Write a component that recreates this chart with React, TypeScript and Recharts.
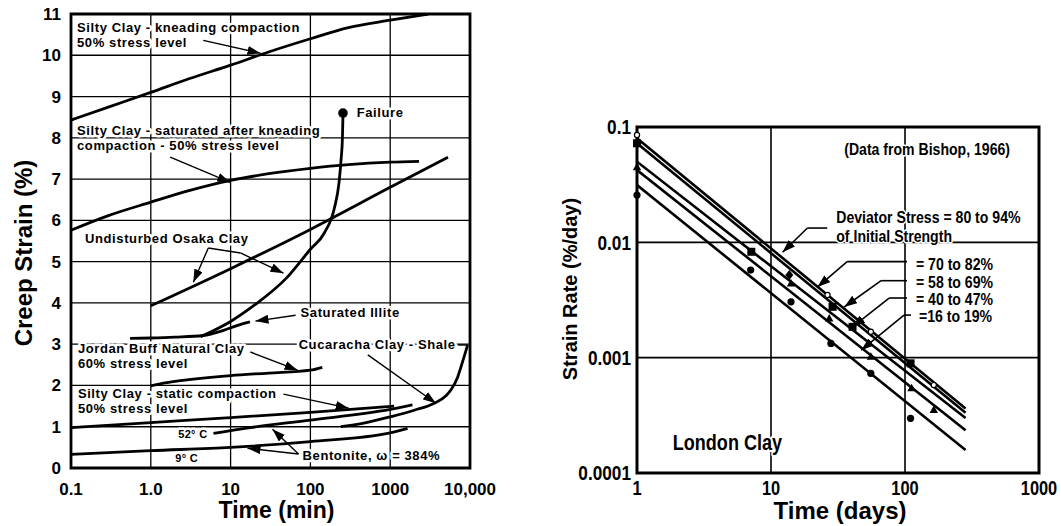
import React from 'react';
import {
  ComposedChart,
  Line,
  XAxis,
  YAxis,
  CartesianGrid,
  ReferenceDot,
  ReferenceLine,
  ReferenceArea,
} from 'recharts';

type P = [number, number];
const pts = (a: P[]) => a.map(([x, y]) => ({ x, y }));

const FONT = "'Liberation Sans', Arial, Helvetica, sans-serif";
const NARROW_SCALE = 0.82;

// ---------------- LEFT PANEL: creep strain vs time (min) ----------------
const leftXTicks = [0.1, 1, 10, 100, 1000, 10000];
const leftXTickLabels = ['0.1', '1.0', '10', '100', '1000', '10,000'];
const leftYTicks = [0, 1, 2, 3, 4, 5, 6, 7, 8, 9, 10, 11];

const siltyKneading: P[] = [
  [0.1, 8.43], [0.3, 8.75], [1, 9.1], [3, 9.43], [10, 9.76], [30, 10.08],
  [100, 10.4], [300, 10.67], [1000, 10.85], [3000, 11],
];
const siltySaturated: P[] = [
  [0.1, 5.76], [0.3, 6.12], [1, 6.44], [3, 6.72], [10, 6.97], [30, 7.13],
  [100, 7.26], [300, 7.35], [1000, 7.41], [2300, 7.43],
];
const osakaClay: P[] = [
  [1, 3.93], [10, 4.83], [100, 5.78], [1000, 6.8], [5300, 7.53],
];
const failureCurve: P[] = [
  [4.2, 3.18], [10, 3.55], [20, 3.95], [50, 4.6], [100, 5.3], [150, 5.7],
  [200, 6.3], [228, 6.9], [243, 7.5], [252, 8.0], [256, 8.55],
];
const saturatedIllite: P[] = [
  [0.55, 3.14], [1, 3.15], [2, 3.17], [4.5, 3.21], [8, 3.33], [12, 3.45], [17.5, 3.54],
];
const jordanBuff: P[] = [
  [1, 1.99], [1.5, 2.06], [3, 2.14], [10, 2.24], [30, 2.3], [100, 2.37], [141, 2.44],
];
const siltyStatic: P[] = [
  [0.1, 0.98], [1, 1.1], [10, 1.22], [100, 1.35], [1120, 1.5],
];
const cucaracha: P[] = [
  [240, 1.0], [500, 1.1], [1000, 1.24], [2000, 1.4], [3570, 1.57], [5000, 1.75],
  [5750, 1.89], [7000, 2.2], [7710, 2.45], [9340, 2.98],
];
const bentonite52: P[] = [
  [6.1, 0.84], [17.7, 0.98], [100, 1.16], [1000, 1.42], [1900, 1.53],
];
const bentonite9: P[] = [
  [0.1, 0.33], [1, 0.42], [10, 0.5], [100, 0.64], [1000, 0.85], [1650, 0.96],
];
const leftCurves = [
  siltyKneading, siltySaturated, osakaClay, failureCurve, saturatedIllite,
  jordanBuff, siltyStatic, cucaracha, bentonite52, bentonite9,
];
const failurePoint: P = [256, 8.6];

// annotations (anchor in data coordinates)
const leftNotes: { x: number; y: number; text: string; small?: boolean }[] = [
  { x: 0.119, y: 10.56, text: 'Silty Clay - kneading compaction' },
  { x: 0.119, y: 10.19, text: '50% stress level' },
  { x: 380, y: 8.5, text: 'Failure' },
  { x: 0.119, y: 8.06, text: 'Silty Clay - saturated after kneading' },
  { x: 0.119, y: 7.7, text: 'compaction -  50% stress level' },
  { x: 0.15, y: 5.45, text: 'Undisturbed Osaka Clay' },
  { x: 75.3, y: 3.66, text: 'Saturated Illite' },
  { x: 0.122, y: 2.78, text: 'Jordan Buff Natural Clay' },
  { x: 0.122, y: 2.42, text: '60% stress level' },
  { x: 71.2, y: 2.88, text: 'Cucaracha Clay - Shale' },
  { x: 0.122, y: 1.69, text: 'Silty Clay - static compaction' },
  { x: 0.122, y: 1.33, text: '50% stress level' },
  { x: 2.21, y: 0.73, text: '52° C', small: true },
  { x: 2.03, y: 0.145, text: '9° C', small: true },
  { x: 79.8, y: 0.19, text: 'Bentonite, \u03c9 = 384%' },
];
const leftArrows: { x1: number; y1: number; x2: number; y2: number; head: boolean }[] = [
  { x1: 4.55, y1: 10.36, x2: 23.7, y2: 10.05, head: true },
  { x1: 1.75, y1: 7.53, x2: 9.9, y2: 6.92, head: true },
  { x1: 5.26, y1: 5.33, x2: 3.41, y2: 4.5, head: true },
  { x1: 5.26, y1: 5.33, x2: 13.3, y2: 5.21, head: false },
  { x1: 13.3, y1: 5.21, x2: 46, y2: 4.72, head: true },
  { x1: 65.2, y1: 3.7, x2: 20.5, y2: 3.56, head: true },
  { x1: 17.7, y1: 2.81, x2: 69, y2: 2.37, head: true },
  { x1: 7060, y1: 2.98, x2: 9340, y2: 2.98, head: false },
  { x1: 524, y1: 2.74, x2: 3740, y2: 1.57, head: true },
  { x1: 46, y1: 1.79, x2: 302, y2: 1.45, head: true },
  { x1: 71, y1: 0.34, x2: 16.3, y2: 0.48, head: true },
  { x1: 71, y1: 0.34, x2: 33.5, y2: 0.94, head: true },
];

// ---------------- RIGHT PANEL: strain rate vs time (days) ----------------
const rightXTicks = [1, 10, 100, 1000];
const rightXTickLabels = ['1', '10', '100', '1000'];
const rightYTicks = [0.0001, 0.001, 0.01, 0.1];
const rightYTickLabels = ['0.0001', '0.001', '0.01', '0.1'];

const stress80to94: P[] = [[1, 0.0798], [283, 0.000363]];
const stress70to82: P[] = [[1, 0.0723], [283, 0.000333]];
const stress58to69: P[] = [[1, 0.05], [283, 0.0003]];
const stress40to47: P[] = [[1, 0.0423], [283, 0.000235]];
const stress16to19: P[] = [[1, 0.0314], [283, 0.000158]];
const rightLines = [stress80to94, stress70to82, stress58to69, stress40to47, stress16to19];

const measuredDots: P[] = [
  [1, 0.0257], [7.05, 0.00575], [14.1, 0.00305], [28, 0.00133], [55.6, 0.00073], [110, 0.000298],
];
const measuredSquares: P[] = [
  [1, 0.0723], [7.13, 0.00828], [28.8, 0.00276], [40.6, 0.00185], [110, 0.000893],
];
const measuredTriangles: P[] = [
  [1, 0.0447], [14.1, 0.0044], [27.2, 0.00219], [55.6, 0.00102], [112, 0.000542], [164, 0.000352],
];
const measuredDiamonds: P[] = [[13.7, 0.0052]];
const measuredOpen: P[] = [[1, 0.0853], [26.4, 0.00349], [55.6, 0.00168], [164, 0.000578]];

const rightNotes: { x: number; y: number; text: string; big?: boolean }[] = [
  { x: 35.2, y: 0.0572, text: '(Data from Bishop, 1966)' },
  { x: 30.7, y: 0.0147, text: 'Deviator Stress = 80 to 94%' },
  { x: 30.7, y: 0.0101, text: 'of Initial Strength' },
  { x: 120.7, y: 0.00575, text: '= 70 to 82%' },
  { x: 120.7, y: 0.00404, text: '= 58 to 69%' },
  { x: 120.7, y: 0.00286, text: '= 40 to 47%' },
  { x: 127, y: 0.00205, text: '=16 to 19%' },
  { x: 1.85, y: 0.000158, text: 'London Clay', big: true },
];
const rightArrows: { x1: number; y1: number; x2: number; y2: number; head: boolean }[] = [
  { x1: 26.3, y1: 0.0133, x2: 18.7, y2: 0.0133, head: false },
  { x1: 18.7, y1: 0.0133, x2: 12.2, y2: 0.0082, head: true },
  { x1: 103.5, y1: 0.0068, x2: 37.0, y2: 0.0068, head: false },
  { x1: 37.0, y1: 0.0068, x2: 22.2, y2: 0.00409, head: true },
  { x1: 103.5, y1: 0.00465, x2: 66.3, y2: 0.00465, head: false },
  { x1: 66.3, y1: 0.00465, x2: 35.2, y2: 0.00275, head: true },
  { x1: 103.5, y1: 0.00329, x2: 76.1, y2: 0.00329, head: false },
  { x1: 76.1, y1: 0.00329, x2: 40.4, y2: 0.00184, head: true },
  { x1: 110.9, y1: 0.00234, x2: 98.3, y2: 0.00234, head: false },
  { x1: 98.3, y1: 0.00234, x2: 47.1, y2: 0.00116, head: true },
];

// ---------------- helpers ----------------
const fmt = (ticks: number[], labels: string[]) => (v: number) => {
  const i = ticks.findIndex((t) => Math.abs(t - v) / t < 1e-6);
  return i >= 0 ? labels[i] : String(v);
};

const arrowShape = (head: boolean, w: number) => (p: any) => (
  <line
    x1={p.x1}
    y1={p.y1}
    x2={p.x2}
    y2={p.y2}
    stroke="#000"
    strokeWidth={w}
    markerEnd={head ? 'url(#ahead)' : undefined}
  />
);

const markerShape = (kind: string) => (p: any) => {
  const { cx, cy } = p;
  if (cx == null || cy == null) return <g />;
  if (kind === 'dot') return <circle cx={cx} cy={cy} r={3.6} fill="#000" />;
  if (kind === 'square') return <rect x={cx - 4} y={cy - 4} width={8} height={8} fill="#000" />;
  if (kind === 'triangle')
    return <path d={`M${cx},${cy - 4.5} L${cx + 4.2},${cy + 3} L${cx - 4.2},${cy + 3} Z`} fill="#000" />;
  if (kind === 'diamond')
    return <path d={`M${cx},${cy - 5} L${cx + 4},${cy} L${cx},${cy + 5} L${cx - 4},${cy} Z`} fill="#000" />;
  return <circle cx={cx} cy={cy} r={2.6} fill="#fff" stroke="#000" strokeWidth={1.2} />;
};

// bold text, optionally condensed (emulates a narrow face)
const BoldText = ({
  x,
  y,
  size,
  anchor = 'start',
  dy,
  rotate = 0,
  halo = 0,
  squeeze = NARROW_SCALE,
  children,
}: {
  x: number;
  y: number;
  size: number;
  anchor?: 'start' | 'middle' | 'end';
  dy?: string;
  rotate?: number;
  halo?: number;
  squeeze?: number;
  children: React.ReactNode;
}) => (
  <g transform={`translate(${x},${y}) rotate(${rotate})`}>
    <text
      transform={`scale(${squeeze},1)`}
      x={0}
      y={0}
      dy={dy}
      textAnchor={anchor}
      fontFamily={FONT}
      fontWeight="bold"
      fontSize={size}
      fill="#000"
      stroke={halo ? '#fff' : undefined}
      strokeWidth={halo || undefined}
      strokeLinejoin="round"
      paintOrder="stroke"
    >
      {children}
    </text>
  </g>
);

const LeftChart = () => (
  <ComposedChart width={500} height={526} margin={{ top: 14, right: 30, bottom: 28, left: 11 }}>
    <CartesianGrid stroke="#000" strokeWidth={1.3} />
    <XAxis
      type="number"
      dataKey="x"
      scale="log"
      domain={[0.1, 10000]}
      ticks={leftXTicks}
      interval={0}
      allowDataOverflow
      tickFormatter={fmt(leftXTicks, leftXTickLabels)}
      tick={{ fill: '#000', fontSize: 17, fontWeight: 'bold', fontFamily: FONT }}
      tickLine={false}
      axisLine={false}
      tickSize={0}
      tickMargin={15}
      height={30}
      label={{
        content: (props: any) => {
          const vb = props.viewBox || props;
          return (
            <text
              x={vb.x + vb.width / 2 + 6}
              y={vb.y + 50}
              textAnchor="middle"
              fontFamily={FONT}
              fontWeight="bold"
              fontSize={23}
              fill="#000"
            >
              Time (min)
            </text>
          );
        },
      }}
    />
    <YAxis
      type="number"
      dataKey="y"
      domain={[0, 11]}
      ticks={leftYTicks}
      interval={0}
      allowDataOverflow
      tick={{ fill: '#000', fontSize: 17, fontWeight: 'bold', fontFamily: FONT }}
      tickLine={false}
      axisLine={false}
      tickSize={0}
      tickMargin={10}
      width={60}
      label={{
        content: (props: any) => {
          const vb = props.viewBox || props;
          const cy = vb.y + vb.height / 2 + 12;
          return (
            <text
              transform={`translate(${vb.x + 21}, ${cy}) rotate(-90)`}
              textAnchor="middle"
              fontFamily={FONT}
              fontWeight="bold"
              fontSize={24}
              fill="#000"
            >
              Creep Strain (%)
            </text>
          );
        },
      }}
    />
    <ReferenceArea
      x1={0.1}
      x2={10000}
      y1={0}
      y2={11}
      fill="none"
      fillOpacity={0}
      stroke="#000"
      strokeWidth={2.8}
      ifOverflow="visible"
    />
    {leftCurves.map((c, i) => (
      <Line
        key={'lc' + i}
        data={pts(c)}
        dataKey="y"
        type="monotone"
        stroke="#000"
        strokeWidth={2.8}
        dot={false}
        activeDot={false}
        isAnimationActive={false}
        legendType="none"
      />
    ))}
    <ReferenceDot x={failurePoint[0]} y={failurePoint[1]} r={4.8} fill="#000" stroke="none" ifOverflow="visible" />
    {leftArrows.map((a, i) => (
      <ReferenceLine
        key={'la' + i}
        segment={[{ x: a.x1, y: a.y1 }, { x: a.x2, y: a.y2 }]}
        ifOverflow="visible"
        shape={arrowShape(a.head, 1.4)}
      />
    ))}
    {leftNotes.map((n, i) => (
      <ReferenceDot
        key={'ln' + i}
        x={n.x}
        y={n.y}
        r={1}
        ifOverflow="visible"
        shape={(p: any) => (
          <text
            x={p.cx}
            y={p.cy}
            fontFamily={FONT}
            fontWeight="bold"
            fontSize={n.small ? 11 : 13}
            letterSpacing={n.small ? 0.3 : 0.6}
            fill="#000"
            stroke="#fff"
            strokeWidth={5}
            strokeLinejoin="round"
            paintOrder="stroke"
          >
            {n.text}
          </text>
        )}
      />
    ))}
  </ComposedChart>
);

const rightXTickFmt = fmt(rightXTicks, rightXTickLabels);
const rightYTickFmt = fmt(rightYTicks, rightYTickLabels);

const RightChart = () => (
  <ComposedChart width={541} height={526} margin={{ top: 127, right: 22, bottom: 23, left: 27 }}>
    <CartesianGrid stroke="#000" strokeWidth={1.6} />
    <XAxis
      type="number"
      dataKey="x"
      scale="log"
      domain={[1, 1000]}
      ticks={rightXTicks}
      interval={0}
      allowDataOverflow
      tick={(p: any) => (
        <BoldText x={p.x} y={p.y} size={20} anchor="middle" dy="0.71em">
          {rightXTickFmt(p.payload.value)}
        </BoldText>
      )}
      tickLine={false}
      axisLine={false}
      tickSize={0}
      tickMargin={8}
      height={30}
      label={{
        content: (props: any) => {
          const vb = props.viewBox || props;
          return (
            <BoldText x={vb.x + vb.width / 2 + 2} y={vb.y + 46} size={24} anchor="middle" squeeze={1}>
              Time (days)
            </BoldText>
          );
        },
      }}
    />
    <YAxis
      type="number"
      dataKey="y"
      scale="log"
      domain={[0.0001, 0.1]}
      ticks={rightYTicks}
      interval={0}
      allowDataOverflow
      tick={(p: any) => (
        <BoldText x={p.x} y={p.y} size={21} anchor="end" dy="0.355em">
          {rightYTickFmt(p.payload.value)}
        </BoldText>
      )}
      tickLine={false}
      axisLine={false}
      tickSize={0}
      tickMargin={6}
      width={90}
      label={{
        content: (props: any) => {
          const vb = props.viewBox || props;
          return (
            <BoldText x={vb.x + 30} y={vb.y + vb.height / 2 - 11} size={20} anchor="middle" rotate={-90} squeeze={1}>
              Strain Rate (%/day)
            </BoldText>
          );
        },
      }}
    />
    <ReferenceArea
      x1={1}
      x2={1000}
      y1={0.0001}
      y2={0.1}
      fill="none"
      fillOpacity={0}
      stroke="#000"
      strokeWidth={3}
      ifOverflow="visible"
    />
    {rightLines.map((c, i) => (
      <Line
        key={'rl' + i}
        data={pts(c)}
        dataKey="y"
        type="linear"
        stroke="#000"
        strokeWidth={2.6}
        dot={false}
        activeDot={false}
        isAnimationActive={false}
        legendType="none"
      />
    ))}
    {(
      [
        ['dot', measuredDots],
        ['square', measuredSquares],
        ['triangle', measuredTriangles],
        ['diamond', measuredDiamonds],
        ['open', measuredOpen],
      ] as [string, P[]][]
    ).flatMap(([kind, arr]) =>
      arr.map((m, i) => (
        <ReferenceDot key={kind + i} x={m[0]} y={m[1]} r={3} ifOverflow="visible" shape={markerShape(kind)} />
      ))
    )}
    {rightArrows.map((a, i) => (
      <ReferenceLine
        key={'ra' + i}
        segment={[{ x: a.x1, y: a.y1 }, { x: a.x2, y: a.y2 }]}
        ifOverflow="visible"
        shape={arrowShape(a.head, 1.6)}
      />
    ))}
    {rightNotes.map((n, i) => (
      <ReferenceDot
        key={'rn' + i}
        x={n.x}
        y={n.y}
        r={1}
        ifOverflow="visible"
        shape={(p: any) => (
          <BoldText
            x={p.cx}
            y={p.cy}
            size={n.big ? 22 : 16}
            squeeze={n.big ? NARROW_SCALE : 0.88}
            halo={n.big ? 4 : 3}
          >
            {n.text}
          </BoldText>
        )}
      />
    ))}
  </ComposedChart>
);

export default function App() {
  return (
    <div style={{ position: 'absolute', left: 0, top: 0, width: 1061, height: 526, background: '#fff' }}>
      <svg width={0} height={0} style={{ position: 'absolute' }}>
        <defs>
          <marker
            id="ahead"
            viewBox="0 0 13 9"
            refX={13}
            refY={4.5}
            markerWidth={13}
            markerHeight={9}
            markerUnits="userSpaceOnUse"
            orient="auto"
          >
            <path d="M0,0 L13,4.5 L0,9 Z" fill="#000" />
          </marker>
        </defs>
      </svg>
      <div style={{ position: 'absolute', left: 0, top: 0 }}>
        <LeftChart />
      </div>
      <div style={{ position: 'absolute', left: 520, top: 0 }}>
        <RightChart />
      </div>
    </div>
  );
}
